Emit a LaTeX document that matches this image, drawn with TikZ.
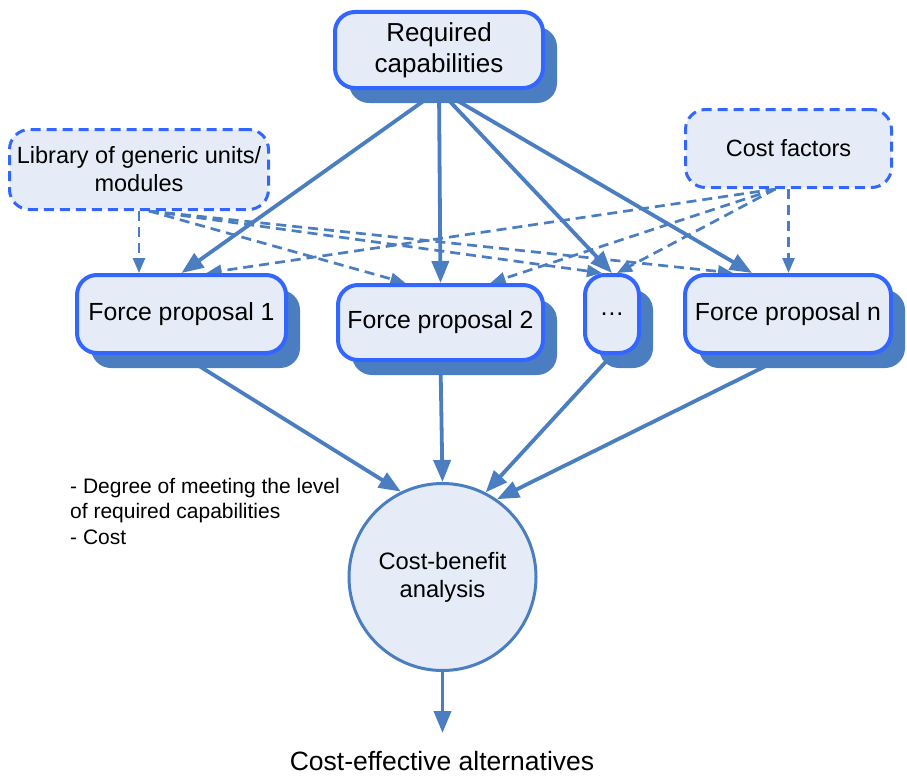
\documentclass[tikz,border=0pt]{standalone}
\usepackage{fontspec}
\setmainfont{Liberation Sans}
\usetikzlibrary{arrows.meta,shadows}
\pgfdeclarelayer{bg}
\pgfsetlayers{bg,main}
\definecolor{boxfill}{HTML}{E6ECF7}
\definecolor{boxline}{HTML}{3366FF}
\definecolor{arrowc}{HTML}{4A7EC1}
\begin{document}
\begin{tikzpicture}[x=1pt,y=-1pt,
  solidbox/.style={draw=boxline, line width=4pt, fill=boxfill, rounded corners=20pt,
    align=center, inner sep=0pt,
    drop shadow={shadow xshift=14pt, shadow yshift=-15pt, fill=arrowc, opacity=1}},
  dashbox/.style={draw=boxline, line width=3pt, dash pattern=on 10pt off 6pt, fill=boxfill,
    rounded corners=20pt, align=center, inner sep=0pt},
  bigtext/.style={font=\fontsize{26}{31}\selectfont},
  midtext/.style={font=\fontsize{24.8}{29}\selectfont},
  smalltext/.style={font=\fontsize{23.5}{28}\selectfont},
  solidarrow/.style={draw=arrowc, line width=3.8pt, -{Triangle[length=22pt,width=17pt]}},
  dasharrow/.style={draw=arrowc, line width=2.7pt, dash pattern=on 10pt off 6pt,
    -{Triangle[length=15pt,width=12pt]}},
]
\useasboundingbox (0,0) rectangle (907,776);

\node[solidbox, bigtext, minimum width=208pt, minimum height=76pt] (req) at (439,50) {Required\\capabilities};
\node[dashbox, smalltext, minimum width=259pt, minimum height=80pt] (lib) at (139,169.5) {Library of generic units/\\modules};
\node[dashbox, smalltext, minimum width=206pt, minimum height=78pt] (costf) at (788.5,148.5) {Cost factors};

\node[solidbox, midtext, minimum width=209pt, minimum height=78pt] (fp1) at (181.5,314) {Force proposal 1};
\node[solidbox, midtext, minimum width=205pt, minimum height=75pt] (fp2) at (440.5,322.5) {Force proposal 2};
\node[solidbox, midtext, minimum width=54pt, minimum height=78pt] (dots) at (612,314) {\dots};
\node[solidbox, midtext, minimum width=206pt, minimum height=78pt] (fpn) at (788,314) {Force proposal n};

\node[circle, draw=arrowc, line width=3pt, fill=boxfill, minimum size=187pt, inner sep=0pt,
  align=center, font=\fontsize{23.7}{28}\selectfont] (cba) at (442.5,577) {Cost-benefit\\analysis};

\node[anchor=north west, align=left, inner sep=0pt, font=\fontsize{21}{25.5}\selectfont] (ann) at (70,478)
  {- Degree of meeting the level\\of required capabilities\\- Cost};

\node[inner sep=0pt, font=\fontsize{26.5}{31}\selectfont] (out) at (442,761) {Cost-effective alternatives};
\coordinate (outtip) at (442.5,733);

\begin{pgfonlayer}{bg}
  % solid arrows from required capabilities
  \draw[solidarrow] (req.south) -- (fp1.north);
  \draw[solidarrow] (req.south) -- (fp2.north);
  \draw[solidarrow] (req.south) -- (dots.north);
  \draw[solidarrow] (req.south) -- ([xshift=-36pt]fpn.north);
  % dashed arrows from library
  \draw[dasharrow] (lib.south) -- (lib.south |- fp1.north);
  \draw[dasharrow] ([xshift=10pt]lib.south) -- ([xshift=-35pt]fp2.north);
  \draw[dasharrow] ([xshift=10pt]lib.south) -- ([xshift=-10pt]dots.north);
  \draw[dasharrow] ([xshift=10pt]lib.south) -- ([xshift=-55pt]fpn.north);
  % dashed arrows from cost factors
  \draw[dasharrow] (costf.south) -- (costf.south |- fpn.north);
  \draw[dasharrow] ([xshift=-13pt]costf.south) -- ([xshift=25pt]fp1.north);
  \draw[dasharrow] ([xshift=-13pt]costf.south) -- ([xshift=50pt]fp2.north);
  \draw[dasharrow] ([xshift=-13pt]costf.south) -- ([xshift=5pt]dots.north);
  % to cost-benefit analysis
  \draw[solidarrow] (fp1.south) -- (cba.116);
  \draw[solidarrow] (fp2.south) -- (cba.north);
  \draw[solidarrow] (dots.south) -- (cba.63);
  \draw[solidarrow] (fpn.south) -- (cba.55);
  \draw[solidarrow] (cba.south) -- (outtip);
\end{pgfonlayer}
\end{tikzpicture}
\end{document}
